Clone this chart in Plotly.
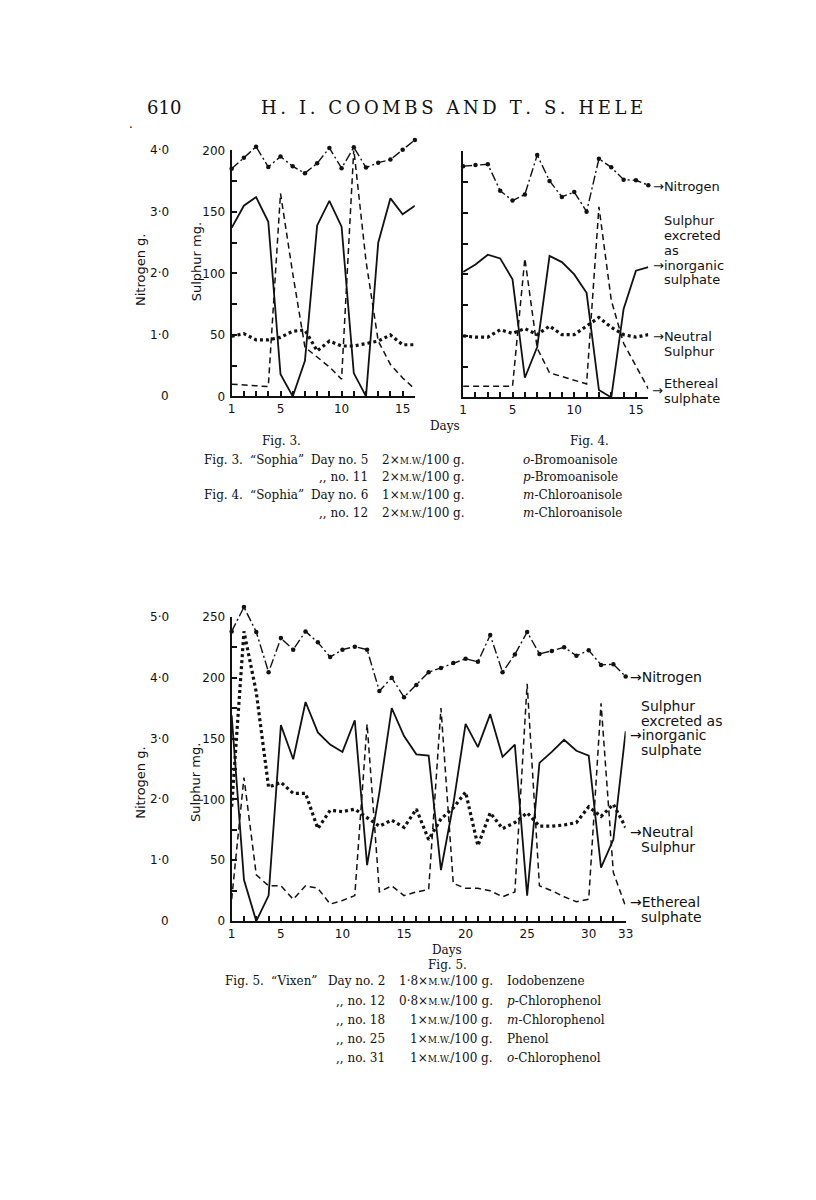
import plotly.graph_objects as go

# The page body has an 8px default margin, so the figure is drawn 8px in from the
# window edge; page coordinates below are converted to figure coordinates.
PAGE_W, PAGE_H = 816, 1200
OFF = 8
W, H = PAGE_W - 2 * OFF, PAGE_H - 2 * OFF


def px(x):
    return (x - OFF) / W


def py(y):
    return 1 - (y - OFF) / H


# ---------------- data ----------------
days3 = list(range(1, 17))
nitrogen3 = [3.70, 3.88, 4.06, 3.73, 3.90, 3.74, 3.63, 3.79, 4.04, 3.71, 4.05, 3.72, 3.80, 3.85, 4.01, 4.17]
inorganic3 = [137, 155, 162, 142, 18, 0, 29, 139, 159, 138, 19, 0, 125, 161, 148, 155]
ethereal3 = [10, 9.5, 9, 8, 165, 100, 40, 32, 24, 14, 201, 110, 45, 26, 15, 6]
neutral3 = [49, 51, 46, 46, 48, 53, 54, 37, 45, 41, 41, 43, 45, 50, 42, 42]

days4 = list(range(1, 17))
nitrogen4 = [3.76, 3.78, 3.79, 3.36, 3.20, 3.30, 3.94, 3.52, 3.26, 3.34, 3.02, 3.88, 3.74, 3.54, 3.53, 3.45]
inorganic4 = [102, 108, 116, 113, 96, 16, 41, 115, 110, 100, 85, 6, 0, 72, 103, 106]
ethereal4 = [9, 9, 9, 9, 9, 113, 40, 20, 17, 14, 11, 155, 79, 44, 25, 7]
neutral4 = [50, 49, 49, 55, 52, 56, 51, 58, 51, 51, 58, 65, 57, 51, 49, 51]

days5 = list(range(1, 34))
nitrogen5 = [4.76, 5.16, 4.75, 4.09, 4.65, 4.46, 4.76, 4.58, 4.34, 4.46, 4.51, 4.46, 3.78, 4.00, 3.68,
             3.88, 4.09, 4.16, 4.24, 4.31, 4.26, 4.70, 4.09, 4.38, 4.75, 4.39, 4.44, 4.50, 4.36, 4.45,
             4.21, 4.22, 4.02]
inorganic5 = [169, 34, 0, 21, 161, 133, 180, 155, 145, 139, 165, 46, 106, 175, 152, 137, 136, 42, 96,
              162, 143, 170, 135, 145, 21, 130, 139, 149, 140, 136, 44, 67, 156]
ethereal5 = [18, 118, 38, 29, 29, 18, 29, 27, 14, 17, 21, 162, 24, 29, 21, 24, 26, 175, 31, 27, 27, 25,
             20, 24, 195, 29, 25, 20, 16, 18, 179, 40, 12]
neutral5 = [94, 238, 188, 110, 114, 105, 105, 76, 91, 90, 92, 85, 78, 83, 77, 92, 67, 84, 93, 106, 62,
            89, 76, 81, 89, 78, 78, 79, 81, 94, 86, 96, 77]

day_labels_16 = {1: "1", 5: "5", 10: "10", 15: "15"}
day_labels_33 = {1: "1", 5: "5", 10: "10", 15: "15", 20: "20", 25: "25", 30: "30", 33: "33"}
sulphur_ticks_200 = [0, 25, 50, 75, 100, 125, 150, 175, 200]
sulphur_ticks_250 = [0, 25, 50, 75, 100, 125, 150, 175, 200, 225, 250]
nitrogen_ticks_4 = [0, 1, 2, 3, 4]
nitrogen_ticks_5 = [0, 1, 2, 3, 4, 5]
nitrogen_labels = {0: "0", 1: "1·0", 2: "2·0", 3: "3·0", 4: "4·0", 5: "5·0"}

caption34 = [
    ["Fig. 3.", "\u201cSophia\u201d", "Day no. 5", "2\u00d7M.W./100 g.", "<i>o</i>-Bromoanisole"],
    ["", "", ",, no. 11", "2\u00d7M.W./100 g.", "<i>p</i>-Bromoanisole"],
    ["Fig. 4.", "\u201cSophia\u201d", "Day no. 6", "1\u00d7M.W./100 g.", "<i>m</i>-Chloroanisole"],
    ["", "", ",, no. 12", "2\u00d7M.W./100 g.", "<i>m</i>-Chloroanisole"],
]
caption5 = [
    ["Fig. 5.", "\u201cVixen\u201d", "Day no. 2", "1·8\u00d7M.W./100 g.", "Iodobenzene"],
    ["", "", ",, no. 12", "0·8\u00d7M.W./100 g.", "<i>p</i>-Chlorophenol"],
    ["", "", ",, no. 18", "1\u00d7M.W./100 g.", "<i>m</i>-Chlorophenol"],
    ["", "", ",, no. 25", "1\u00d7M.W./100 g.", "Phenol"],
    ["", "", ",, no. 31", "1\u00d7M.W./100 g.", "<i>o</i>-Chlorophenol"],
]

SANS = "DejaVu Sans"
SERIF = "DejaVu Serif"
BLACK = "#111111"

fig = go.Figure()


def add_panel(days, nit, inorg, eth, neut, xa, ya, yn):
    fig.add_trace(go.Scatter(x=days, y=inorg, xaxis=xa, yaxis=ya, mode="lines",
                             line=dict(color=BLACK, width=1.8), showlegend=False))
    fig.add_trace(go.Scatter(x=days, y=eth, xaxis=xa, yaxis=ya, mode="lines",
                             line=dict(color=BLACK, width=1.5, dash="6px,4px"), showlegend=False))
    fig.add_trace(go.Scatter(x=days, y=neut, xaxis=xa, yaxis=ya, mode="lines",
                             line=dict(color=BLACK, width=3.2, dash="3px,3px"), showlegend=False))
    fig.add_trace(go.Scatter(x=days, y=nit, xaxis=xa, yaxis=yn, mode="lines+markers",
                             line=dict(color=BLACK, width=1.4, dash="9px,3px,2px,3px"),
                             marker=dict(size=4.5, color=BLACK), showlegend=False, cliponaxis=False))


add_panel(days3, nitrogen3, inorganic3, ethereal3, neutral3, "x", "y", "y2")
add_panel(days4, nitrogen4, inorganic4, ethereal4, neutral4, "x2", "y3", "y4")
add_panel(days5, nitrogen5, inorganic5, ethereal5, neutral5, "x3", "y5", "y6")


def xaxis_cfg(days, labels, x0, x1, anchor, last):
    return dict(domain=[px(x0), px(x1)], range=[1, last], anchor=anchor,
                tickmode="array", tickvals=days,
                ticktext=[labels.get(d, "") for d in days],
                ticks="inside", ticklen=5, tickwidth=1.5, tickcolor=BLACK,
                showline=True, linewidth=2, linecolor=BLACK,
                showgrid=False, zeroline=False,
                tickfont=dict(family=SANS, size=12, color=BLACK))


def yaxis_cfg(ticks, top, y0, y1, anchor, show_labels=True):
    return dict(domain=[py(y0), py(y1)], range=[0, top], anchor=anchor,
                tickmode="array", tickvals=ticks,
                ticktext=[(str(t) if (t % 50 == 0 and show_labels) else "") for t in ticks],
                ticks="inside", ticklen=5, tickwidth=1.5, tickcolor=BLACK,
                showline=True, linewidth=2, linecolor=BLACK,
                showgrid=False, zeroline=False, ticklabelstandoff=2,
                tickfont=dict(family=SANS, size=12, color=BLACK))


def nitrogen_axis(top, y0, y1, anchor, headroom=1.12):
    # hidden nitrogen axis with the same scale as the sulphur axis, but a taller
    # domain so points above the sulphur frame are not clipped
    y_top = y0 - (y0 - y1) * headroom
    return dict(domain=[py(y0), py(y_top)], range=[0, top * headroom], anchor=anchor,
                visible=False, showgrid=False, zeroline=False)


fig.update_layout(
    width=W, height=H, autosize=False,
    margin=dict(l=0, r=0, t=0, b=0),
    paper_bgcolor="white", plot_bgcolor="rgba(0,0,0,0)",
    xaxis=xaxis_cfg(days3, day_labels_16, 231, 417, "y", 16),
    yaxis=yaxis_cfg(sulphur_ticks_200, 200, 394, 145, "x"),
    yaxis2=nitrogen_axis(4, 394, 145, "x"),
    xaxis2=xaxis_cfg(days4, day_labels_16, 466, 654, "y3", 16),
    yaxis3=yaxis_cfg(sulphur_ticks_200, 200, 395, 146, "x2", show_labels=False),
    yaxis4=nitrogen_axis(4, 395, 146, "x2"),
    xaxis3=xaxis_cfg(days5, day_labels_33, 231, 631, "y5", 33),
    yaxis5=yaxis_cfg(sulphur_ticks_250, 250, 925, 617, "x3"),
    yaxis6=nitrogen_axis(5, 925, 617, "x3"),
)

ann = []


def text(x, y, s, size=12, family=SANS, xanchor="left", angle=0, yref="paper"):
    ann.append(dict(x=px(x), y=(py(y) if yref == "paper" else y), xref="paper", yref=yref,
                    text=s, showarrow=False, xanchor=xanchor, yanchor="middle",
                    textangle=angle, font=dict(family=family, size=size, color=BLACK)))


# nitrogen tick labels (on the nitrogen axes)
for v in nitrogen_ticks_4:
    text(169, v, nitrogen_labels[v], xanchor="right", yref="y2")
for v in nitrogen_ticks_5:
    text(169, v, nitrogen_labels[v], xanchor="right", yref="y6")

# axis titles
text(139, 266, "Nitrogen g.", size=13, xanchor="center", angle=-90)
text(195, 258, "Sulphur mg.", size=13, xanchor="center", angle=-90)
text(139, 785, "Nitrogen g.", size=13, xanchor="center", angle=-90)
text(195, 785, "Sulphur mg.", size=13, xanchor="center", angle=-90)

# header
title = "H. I. COOMBS AND T. S. HELE"
text(143, 102, "610", size=18, family=SERIF)
text(455, 102, "\u2009".join(title), size=18, family=SERIF, xanchor="center")
text(129, 118, ".", size=12, family=SERIF, xanchor="center")

# right-hand labels fig 4
L4 = 657
text(L4, 182, "\u2192Nitrogen", size=13)
text(L4 + 11, 216, "Sulphur", size=13)
text(L4 + 11, 231, "excreted", size=13)
text(L4 + 11, 246, "as", size=13)
text(L4, 261, "\u2192inorganic", size=13)
text(L4 + 11, 276, "sulphate", size=13)
text(L4, 333, "\u2192Neutral", size=13)
text(L4 + 11, 349, "Sulphur", size=13)
text(L4 + 11, 381, "Ethereal", size=13)
text(L4 - 1, 388, "\u2192", size=13)
text(L4 + 11, 396, "sulphate", size=13)

# right-hand labels fig 5
L5 = 633
text(L5, 678, "\u2192Nitrogen", size=14)
text(L5 + 12, 707, "Sulphur", size=14)
text(L5 + 12, 722, "excreted as", size=14)
text(L5, 737, "\u2192inorganic", size=14)
text(L5 + 12, 752, "sulphate", size=14)
text(L5, 835, "\u2192Neutral", size=14)
text(L5 + 12, 850, "Sulphur", size=14)
text(L5, 906, "\u2192Ethereal", size=14)
text(L5 + 12, 921, "sulphate", size=14)

# Days / fig labels
text(448, 424, "Days", size=12, family=SERIF, xanchor="center")
text(282, 439, "Fig. 3.", size=12, family=SERIF, xanchor="center")
text(594, 439, "Fig. 4.", size=12, family=SERIF, xanchor="center")
text(450, 954, "Days", size=12, family=SERIF, xanchor="center")
text(450, 969, "Fig. 5.", size=12, family=SERIF, xanchor="center")


def smallcaps(s):
    return s.replace("M.W.", "<span style='font-size:9px'>M.W.</span>")


for i, row in enumerate(caption34):
    y = 458 + i * 18
    if row[0]:
        text(201, y, row[0], family=SERIF)
        text(248, y, row[1], family=SERIF)
    text(371, y, row[2], family=SERIF, xanchor="right")
    text(382, y, smallcaps(row[3]), family=SERIF)
    text(525, y, row[4], family=SERIF)

for i, row in enumerate(caption5):
    y = 986 + i * 19.3
    if row[0]:
        text(222, y, row[0], family=SERIF)
        text(269, y, row[1], family=SERIF)
    text(389, y, row[2], family=SERIF, xanchor="right")
    text(498, y, smallcaps(row[3]), family=SERIF, xanchor="right")
    text(509, y, row[4], family=SERIF)

fig.update_layout(annotations=ann)
fig.write_html("out.html")
